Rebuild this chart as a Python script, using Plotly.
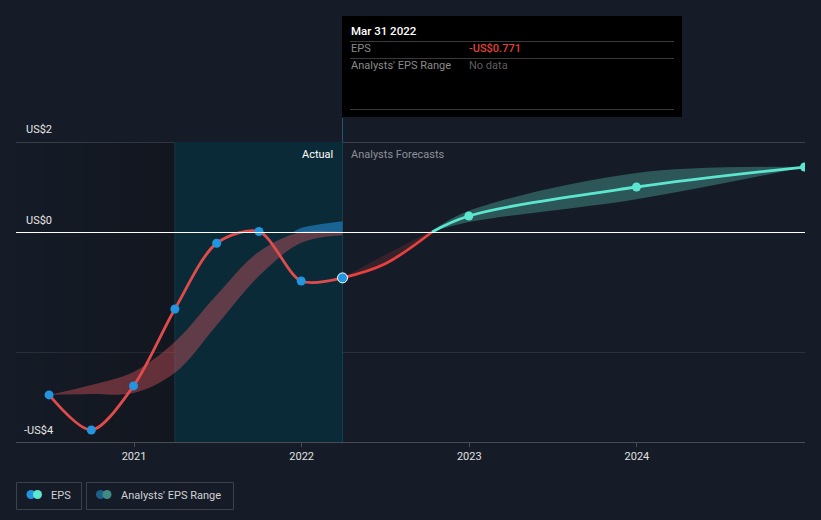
import plotly.graph_objects as go
import pandas as pd

# ---------------- data ----------------
actual_dates = ["2020-06-30", "2020-09-30", "2020-12-31", "2021-03-31",
                "2021-06-30", "2021-09-30", "2021-12-31", "2022-03-31"]
actual_eps = [-3.62, -4.4, -3.42, -1.71, -0.25, 0.01, -1.09, -1.02]

# past analysts' range (what analysts expected at the time)
past_low = [-3.62, -3.6, -3.58, -3.13, -2.07, -0.98, -0.24, -0.07]
past_high = [-3.62, -3.4, -3.11, -2.44, -1.4, -0.44, 0.09, 0.24]
past_pos_dates = ["2021-12-13", "2021-12-31", "2022-03-31"]
past_pos_high = [0.0, 0.09, 0.24]

# bridge from last actual to zero crossing
bridge_dates = ["2022-03-31", "2022-07-01", "2022-10-12"]
bridge_eps = [-1.02, -0.71, 0.0]
bridge_low = [-1.02, -0.72, 0.0]
bridge_high = [-1.02, -0.51, 0.03]

# forecasts
fc_dates = ["2022-10-12", "2022-12-31", "2023-12-31", "2024-12-31"]
fc_eps = [0.0, 0.356, 1.0, 1.444]
fc_low = [0.0, 0.22, 0.73, 1.444]
fc_high = [0.03, 0.47, 1.31, 1.444]

year_ticks = ["2021-01-01", "2022-01-01", "2023-01-01", "2024-01-01"]
year_labels = ["2021", "2022", "2023", "2024"]
y_labels = ["US$2", "US$0", "-US$4"]

# ---------------- layout helpers ----------------
W, H = 821, 520
L, R, T, B = 16, 805, 118, 442
X0, X1 = "2020-04-19", "2025-01-01"
Y0, Y1 = -4.6667, 2.5333
HALF = 0.5 / 45.0  # half a pixel in data units, for crisp 1px lines


def px(xp):
    return (xp - L) / (R - L)


def py(yp):
    return (B - yp) / (B - T)


BG = "#161c27"
FONT = "Roboto"

fig = go.Figure()


def band(x, lo, hi, color):
    fig.add_trace(go.Scatter(x=x, y=lo, mode="lines", line=dict(width=0, shape="spline"),
                             hoverinfo="skip", showlegend=False))
    fig.add_trace(go.Scatter(x=x, y=hi, mode="lines", line=dict(width=0, shape="spline"),
                             fill="tonexty", fillcolor=color, hoverinfo="skip", showlegend=False))


# past range: red below zero, blue above zero
band(actual_dates, past_low, [min(h, 0) for h in past_high], "rgba(214,86,96,0.42)")
band(past_pos_dates, [0] * len(past_pos_dates), past_pos_high, "rgba(36,140,210,0.6)")
# forecast range
band(bridge_dates, bridge_low, bridge_high, "rgba(190,60,60,0.2)")
band(fc_dates, fc_low, fc_high, "rgba(92,205,185,0.33)")

# lines
fig.add_trace(go.Scatter(x=actual_dates, y=actual_eps, mode="lines",
                         line=dict(color="#e04c4c", width=2.8, shape="spline", smoothing=0.85),
                         hoverinfo="skip", showlegend=False))
fig.add_trace(go.Scatter(x=bridge_dates, y=bridge_eps, mode="lines",
                         line=dict(color="#e8403e", width=2.8, shape="spline"),
                         hoverinfo="skip", showlegend=False))
fig.add_trace(go.Scatter(x=fc_dates, y=fc_eps, mode="lines",
                         line=dict(color="#5ce6d0", width=2.8, shape="spline"),
                         hoverinfo="skip", showlegend=False))
# markers
fig.add_trace(go.Scatter(x=actual_dates[:-1], y=actual_eps[:-1], mode="markers",
                         marker=dict(color="#2394df", size=9),
                         hoverinfo="skip", showlegend=False))
fig.add_trace(go.Scatter(x=actual_dates[-1:], y=actual_eps[-1:], mode="markers",
                         marker=dict(color="#2394df", size=10, line=dict(color="#ffffff", width=1)),
                         hoverinfo="skip", showlegend=False))
fig.add_trace(go.Scatter(x=fc_dates[1:], y=fc_eps[1:], mode="markers",
                         marker=dict(color="#5ce6d0", size=9),
                         hoverinfo="skip", showlegend=False))

shapes = []
# left dark gradient region
dr = pd.date_range(X0, "2021-03-31", periods=13)
for i in range(12):
    shapes.append(dict(type="rect", xref="x", yref="y", x0=dr[i], x1=dr[i + 1], y0=Y0, y1=2,
                       fillcolor="rgba(0,0,0,%.3f)" % (0.02 + 0.17 * i / 11), line=dict(width=0),
                       layer="below"))
# highlighted last-year region
shapes.append(dict(type="rect", xref="x", yref="y", x0="2021-03-31", x1="2022-03-31", y0=Y0, y1=2,
                   fillcolor="#0b2a37", line=dict(width=0), layer="below"))
shapes.append(dict(type="line", xref="x", yref="y", x0="2021-03-31", x1="2021-03-31", y0=Y0, y1=2,
                   line=dict(color="#143845", width=1), layer="below"))
# grid lines
shapes.append(dict(type="line", xref="paper", yref="y", x0=0, x1=1, y0=2 - HALF, y1=2 - HALF,
                   line=dict(color="#3b4049", width=1), layer="below"))
shapes.append(dict(type="line", xref="paper", yref="y", x0=0, x1=1, y0=-2.667 - HALF, y1=-2.667 - HALF,
                   line=dict(color="#2b3039", width=1), layer="below"))
shapes.append(dict(type="line", xref="paper", yref="y", x0=0, x1=1, y0=-HALF, y1=-HALF,
                   line=dict(color="#ffffff", width=1), layer="above"))
# "now" line
shapes.append(dict(type="line", xref="x", yref="paper", x0="2022-03-31", x1="2022-03-31",
                   y0=0, y1=1, line=dict(color="#1d5a70", width=1), layer="below"))
# tooltip box
shapes.append(dict(type="rect", xref="paper", yref="paper", x0=px(342), x1=px(682), y0=py(117), y1=py(16),
                   fillcolor="#000000", line=dict(width=0), layer="above"))
for yy in (41.5, 58.5, 109.5):
    shapes.append(dict(type="line", xref="paper", yref="paper", x0=px(350), x1=px(674), y0=py(yy), y1=py(yy),
                       line=dict(color="#3a3a3a", width=1), layer="above"))
# legend boxes
for (a, b) in ((16.5, 81.5), (86.5, 233.5)):
    shapes.append(dict(type="rect", xref="paper", yref="paper", x0=px(a), x1=px(b), y0=py(509.5), y1=py(482.5),
                       fillcolor="rgba(0,0,0,0)", line=dict(color="#3c414a", width=1), layer="above"))
for (cx, col) in ((31, "#2394df"), (37.5, "#5ce6d0"), (100.5, "#1e5f8a"), (107, "#3f8c82")):
    shapes.append(dict(type="circle", xref="paper", yref="paper",
                       x0=px(cx - 4.5), x1=px(cx + 4.5), y0=py(499), y1=py(490),
                       fillcolor=col, line=dict(width=0), layer="above"))

annotations = []


def text(x, y, s, color, size=11, xanchor="left", weight=None):
    annotations.append(dict(xref="paper", yref="paper", x=px(x), y=py(y), text=s, showarrow=False,
                            xanchor=xanchor, yanchor="middle",
                            font=dict(family=FONT, size=size, color=color, weight=weight)))


text(24, 129, y_labels[0], "#e6e6e6", 11)
text(24, 220, y_labels[1], "#e6e6e6", 11)
text(22, 430, y_labels[2], "#e6e6e6", 11)
text(335, 154, "Actual", "#ffffff", 11, "right")
text(349, 154, "Analysts Forecasts", "#8c9099", 11)
text(349, 31, "Mar 31 2022", "#ffffff", 11.5, weight=500)
text(349, 49, "EPS", "#8a8a8a", 11)
text(467, 49, "-US$0.771", "#e0403f", 11, weight=500)
text(349, 66, "Analysts' EPS Range", "#8a8a8a", 11)
text(467, 66, "No data", "#5e5e5e", 11)
text(49, 495, "EPS", "#cfd2d6", 11)
text(119, 495, "Analysts' EPS Range", "#cfd2d6", 11)

fig.update_layout(
    width=W, height=H,
    margin=dict(l=L, r=W - R, t=T, b=H - B),
    paper_bgcolor=BG, plot_bgcolor=BG,
    showlegend=False,
    hovermode=False,
    shapes=shapes,
    annotations=annotations,
    font=dict(family=FONT),
    xaxis=dict(range=[X0, X1], type="date", tickvals=year_ticks, ticktext=year_labels,
               showgrid=False, zeroline=False, showline=True, linecolor="#474c55", linewidth=1,
               ticks="outside", ticklen=4, tickcolor="#474c55",
               tickfont=dict(family=FONT, size=11, color="#e0e0e0")),
    yaxis=dict(range=[Y0, Y1], visible=False, showgrid=False, zeroline=False),
)

fig.write_html("out.html")
